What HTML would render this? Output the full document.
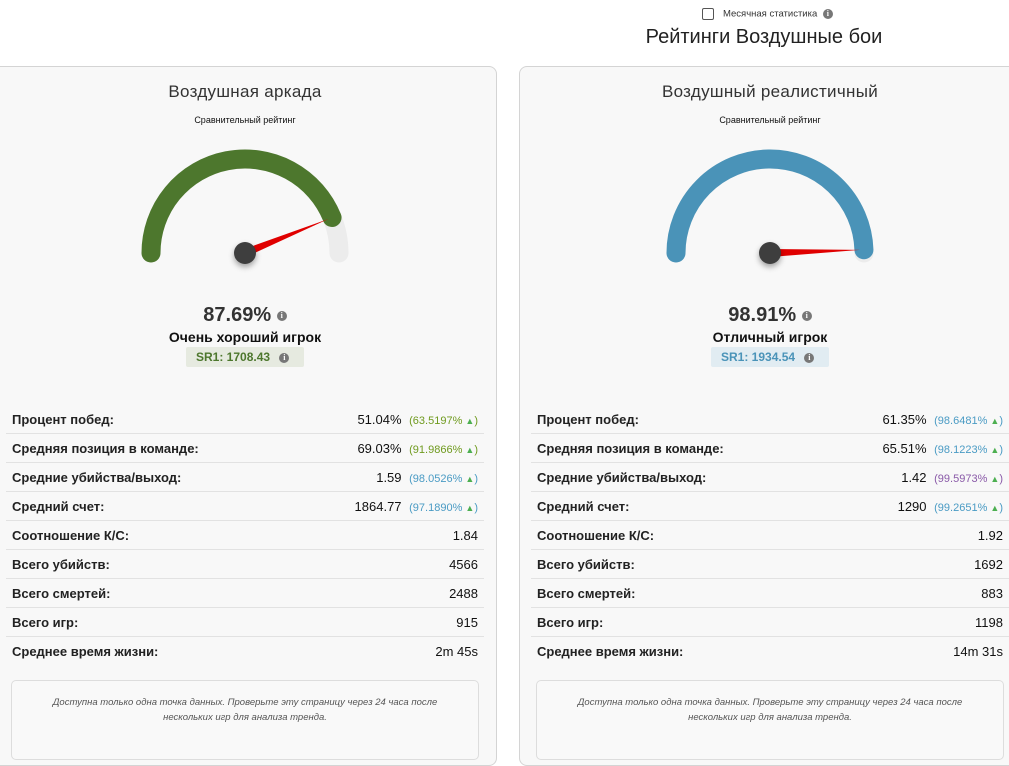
<!DOCTYPE html>
<html><head><meta charset="utf-8">
<style>
body{margin:0;width:1009px;height:747px;overflow:hidden;background:#fff;font-family:"Liberation Sans","Noto Sans CJK SC",sans-serif;position:relative;color:#222}
.abs{position:absolute}
.card{position:absolute;top:66px;height:700px;background:#f8f8f8;border:1px solid #d4d4d4;border-radius:8px;box-sizing:border-box}
.title{position:absolute;top:82px;font-size:17px;color:#333;text-align:center;width:100%;letter-spacing:0.3px}
.sub{position:absolute;top:115px;font-size:9px;color:#111;text-align:center;width:100%}
.pct{position:absolute;top:304px;width:100%;text-align:center;font-size:20px;font-weight:bold;color:#333}
.rank{position:absolute;top:329px;width:100%;text-align:center;font-size:14px;font-weight:bold;color:#111}
.sr{position:absolute;top:347px;height:20px;line-height:20px;font-size:12px;font-weight:bold;border-radius:2px;text-align:left;padding-left:10px;box-sizing:border-box}
.info{display:inline-block;width:10px;height:10px;border-radius:50%;background:#777;color:#fff;font-size:8px;line-height:10px;text-align:center;vertical-align:middle;font-weight:bold;font-family:"Liberation Serif",serif}
.row{position:absolute;height:29px;border-bottom:1px solid #e2e2e2;box-sizing:border-box;font-size:13px}
.row .l{position:absolute;left:6px;top:7px;font-weight:bold;color:#222}
.row .r{position:absolute;right:6px;top:7px;color:#111}
.note{position:absolute;top:680px;height:80px;border:1px solid #ddd;border-radius:5px;background:#f9f9f9;font-size:9.5px;font-style:italic;color:#555;text-align:center;line-height:15px;padding-top:14px;box-sizing:border-box}
</style></head><body>
<div class="abs" style="left:702px;top:8px;font-size:9.5px;color:#333">
<span style="display:inline-block;width:10px;height:10px;border:1px solid #555;border-radius:2px;vertical-align:middle;margin-right:9px"></span>Месячная статистика <span class="info" style="margin-left:3px">i</span></div>
<div class="abs" style="left:519px;width:490px;top:26px;text-align:center;font-size:20px;color:#222">Рейтинги Воздушные бои</div>

<div class="card" style="left:-10px;width:507px"></div>
<div class="card" style="left:519px;width:520px"></div>

<div id="p0" class="abs" style="left:0;top:0;width:490px;height:747px"></div>
<div id="p1" class="abs" style="left:525px;top:0;width:490px;height:747px"></div>

<script>
const modes=["Воздушная аркада","Воздушный реалистичный"];
const ratings=[87.69,98.91];
const ranks=["Очень хороший игрок","Отличный игрок"];
const srValues=["1708.43","1934.54"];
const statLabels=["Процент побед:","Средняя позиция в команде:","Средние убийства/выход:","Средний счет:","Соотношение К/С:","Всего убийств:","Всего смертей:","Всего игр:","Среднее время жизни:"];
const statValues0=["51.04%","69.03%","1.59","1864.77","1.84","4566","2488","915","2m 45s"];
const statValues1=["61.35%","65.51%","1.42","1290","1.92","1692","883","1198","14m 31s"];
const pctl0=["63.5197%","91.9866%","98.0526%","97.1890%"];
const pctl1=["98.6481%","98.1223%","99.5973%","99.2651%"];
const gaugeColors=["#4d772d","#4a93b8"];
const srBg=["#e6eae0","#e1ecf2"];
function pColor(v){v=parseFloat(v);return v>=99.5?"#8a5aa8":(v>=97?"#4a9bc4":"#6f9a1e");}
const ns="http://www.w3.org/2000/svg";
[0,1].forEach(i=>{
 const p=document.getElementById('p'+i);
 const cx=245;
 p.innerHTML=`<div class="title">${modes[i]}</div><div class="sub">Сравнительный рейтинг</div>`;
 const svg=document.createElementNS(ns,'svg');
 svg.setAttribute('width','490');svg.setAttribute('height','300');
 svg.setAttribute('style','position:absolute;left:0;top:0');
 
 
 const r=94,cy=253,frac=ratings[i]/100;
 const pt=f=>{const a=Math.PI*(1-f);return [cx+r*Math.cos(a),cy-r*Math.sin(a)];};
 const [sx,sy]=pt(0),[ex,ey]=pt(1),[vx,vy]=pt(frac);
 const bg=document.createElementNS(ns,'path');
 bg.setAttribute('d',`M${sx},${sy} A${r},${r} 0 0 1 ${ex},${ey}`);
 bg.setAttribute('stroke','#ececec');bg.setAttribute('stroke-width','19');bg.setAttribute('fill','none');bg.setAttribute('stroke-linecap','round');
 
 
 svg.appendChild(bg);
 const fg=document.createElementNS(ns,'path');
 fg.setAttribute('d',`M${sx},${sy} A${r},${r} 0 0 1 ${vx},${vy}`);
 fg.setAttribute('stroke',gaugeColors[i]);fg.setAttribute('stroke-width','19');fg.setAttribute('fill','none');fg.setAttribute('stroke-linecap','round');
 
 
 svg.appendChild(fg);
 const a=Math.PI*(1-frac),nx=Math.cos(a),ny=-Math.sin(a),px=-ny,py=nx,L=r-4;
 const nd=document.createElementNS(ns,'polygon');
 nd.setAttribute('points',`${cx+px*4},${cy+py*4} ${cx+nx*L},${cy+ny*L} ${cx-px*4},${cy-py*4}`);
 nd.setAttribute('fill','#e00000');
 
 
 svg.appendChild(nd);
 const hub=document.createElementNS(ns,'circle');
 hub.setAttribute('cx',cx);hub.setAttribute('cy',cy);hub.setAttribute('r','11');hub.setAttribute('fill','#3e3e3e');
 hub.setAttribute('style','filter:drop-shadow(0 3px 3px rgba(0,0,0,.35))');
 
 
 svg.appendChild(hub);
 p.appendChild(svg);
 const pc=document.createElement('div');pc.className='pct';pc.innerHTML=ratings[i].toFixed(2)+'% <span class="info">i</span>';
 
 
 p.appendChild(pc);
 const rk=document.createElement('div');rk.className='rank';rk.textContent=ranks[i];
 
 
 p.appendChild(rk);
 const sr=document.createElement('div');sr.className='sr';
 sr.style.left='186px';sr.style.width='118px';sr.style.background=srBg[i];sr.style.color=i?'#4a93b8':'#4d772d';
 sr.innerHTML='SR1: '+srValues[i]+' <span class="info" style="margin-left:6px">i</span>';
 
 
 p.appendChild(sr);
 const vals=i?statValues1:statValues0,pc2=i?pctl1:pctl0;
 statLabels.forEach((lab,k)=>{
  const row=document.createElement('div');row.className='row';
  row.style.left='6px';row.style.width='478px';row.style.top=(405+k*29)+'px';
  if(k==8)row.style.borderBottom='none';
  let rv=vals[k];
  if(k<4)rv+=` <span style="font-size:11px;margin-left:4px;color:${pColor(pc2[k])}">(${pc2[k]} <span style="color:#4caf50;font-size:9px">▲</span>)</span>`;
  row.innerHTML=`<span class="l">${lab}</span><span class="r">${rv}</span>`;
  
  
  p.appendChild(row);
 });
 const note=document.createElement('div');note.className='note';
 note.style.left='11px';note.style.width='468px';
 note.innerHTML='Доступна только одна точка данных. Проверьте эту страницу через 24 часа после<br>нескольких игр для анализа тренда.';
 
 
 p.appendChild(note);
});
</script>
</body></html>
